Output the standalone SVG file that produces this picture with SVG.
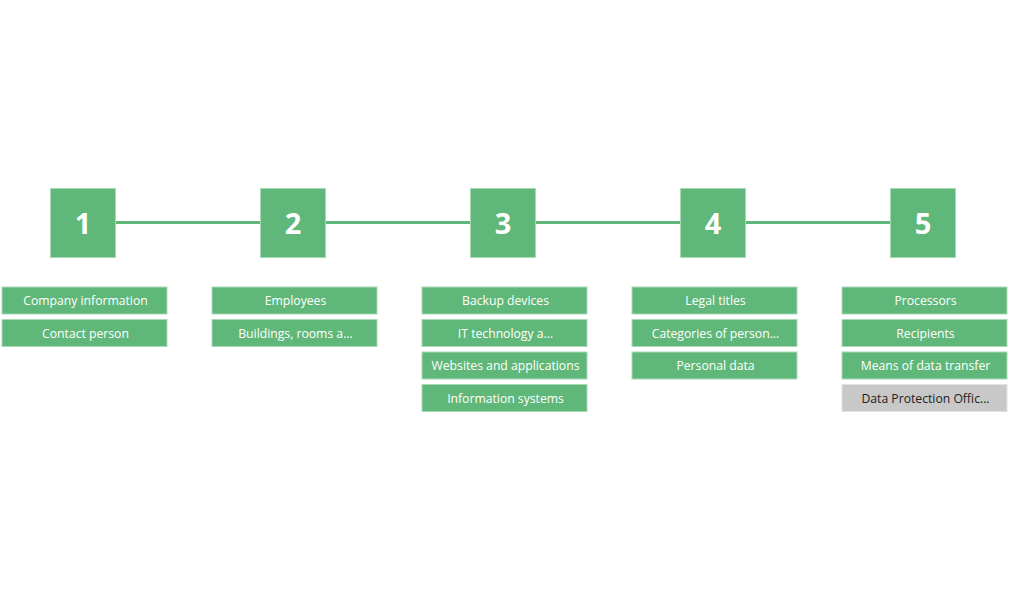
<svg xmlns="http://www.w3.org/2000/svg" width="1010" height="600" viewBox="0 0 1010 600">
<style>
.step{fill:#5fb87a;stroke:#a9dab7;stroke-width:1}
.num{font-family:"Open Sans","Noto Sans",sans-serif;font-size:29px;font-weight:bold;fill:#fff;text-anchor:middle}
.item{fill:#5fb87a;stroke:#a9dab7;stroke-width:1}
.gray{fill:#c8c8c8;stroke:#e2e2e2;stroke-width:1}
.lbl{font-family:"Open Sans","Noto Sans",sans-serif;font-size:12.2px;fill:#fff;text-anchor:middle}
.dark{fill:#222}
.conn{stroke:#5fb87a;stroke-width:3;fill:none}
</style>
<rect width="1010" height="600" fill="#fff"/>
<g id="connectors">
<line class="conn" x1="115" y1="222.5" x2="261" y2="222.5"/>
<line class="conn" x1="325" y1="222.5" x2="471" y2="222.5"/>
<line class="conn" x1="535" y1="222.5" x2="681" y2="222.5"/>
<line class="conn" x1="745" y1="222.5" x2="891" y2="222.5"/>
</g>
<g id="step1"><rect class="step" x="50.5" y="188.5" width="65" height="69"/><text class="num" x="83" y="234">1</text></g>
<g id="step2"><rect class="step" x="260.5" y="188.5" width="65" height="69"/><text class="num" x="293" y="234">2</text></g>
<g id="step3"><rect class="step" x="470.5" y="188.5" width="65" height="69"/><text class="num" x="503" y="234">3</text></g>
<g id="step4"><rect class="step" x="680.5" y="188.5" width="65" height="69"/><text class="num" x="713" y="234">4</text></g>
<g id="step5"><rect class="step" x="890.5" y="188.5" width="65" height="69"/><text class="num" x="923" y="234">5</text></g>

<g id="item1a"><rect class="item" x="2" y="287" width="165" height="27"/><text class="lbl" x="85.5" y="305">Company information</text></g>
<g id="item1b"><rect class="item" x="2" y="319.5" width="165" height="27"/><text class="lbl" x="85.5" y="337.5">Contact person</text></g>

<g id="item2a"><rect class="item" x="212" y="287" width="165" height="27"/><text class="lbl" x="295.5" y="305">Employees</text></g>
<g id="item2b"><rect class="item" x="212" y="319.5" width="165" height="27"/><text class="lbl" x="295.5" y="337.5">Buildings, rooms a...</text></g>

<g id="item3a"><rect class="item" x="422" y="287" width="165" height="27"/><text class="lbl" x="505.5" y="305">Backup devices</text></g>
<g id="item3b"><rect class="item" x="422" y="319.5" width="165" height="27"/><text class="lbl" x="505.5" y="337.5">IT technology a...</text></g>
<g id="item3c"><rect class="item" x="422" y="352" width="165" height="27"/><text class="lbl" x="505.5" y="370">Websites and applications</text></g>
<g id="item3d"><rect class="item" x="422" y="384.5" width="165" height="27"/><text class="lbl" x="505.5" y="402.5">Information systems</text></g>

<g id="item4a"><rect class="item" x="632" y="287" width="165" height="27"/><text class="lbl" x="715.5" y="305">Legal titles</text></g>
<g id="item4b"><rect class="item" x="632" y="319.5" width="165" height="27"/><text class="lbl" x="715.5" y="337.5">Categories of person...</text></g>
<g id="item4c"><rect class="item" x="632" y="352" width="165" height="27"/><text class="lbl" x="715.5" y="370">Personal data</text></g>

<g id="item5a"><rect class="item" x="842" y="287" width="165" height="27"/><text class="lbl" x="925.5" y="305">Processors</text></g>
<g id="item5b"><rect class="item" x="842" y="319.5" width="165" height="27"/><text class="lbl" x="925.5" y="337.5">Recipients</text></g>
<g id="item5c"><rect class="item" x="842" y="352" width="165" height="27"/><text class="lbl" x="925.5" y="370">Means of data transfer</text></g>
<g id="item5d"><rect class="gray" x="842" y="384.5" width="165" height="27"/><text class="lbl dark" x="925.5" y="402.5">Data Protection Offic...</text></g>
</svg>
